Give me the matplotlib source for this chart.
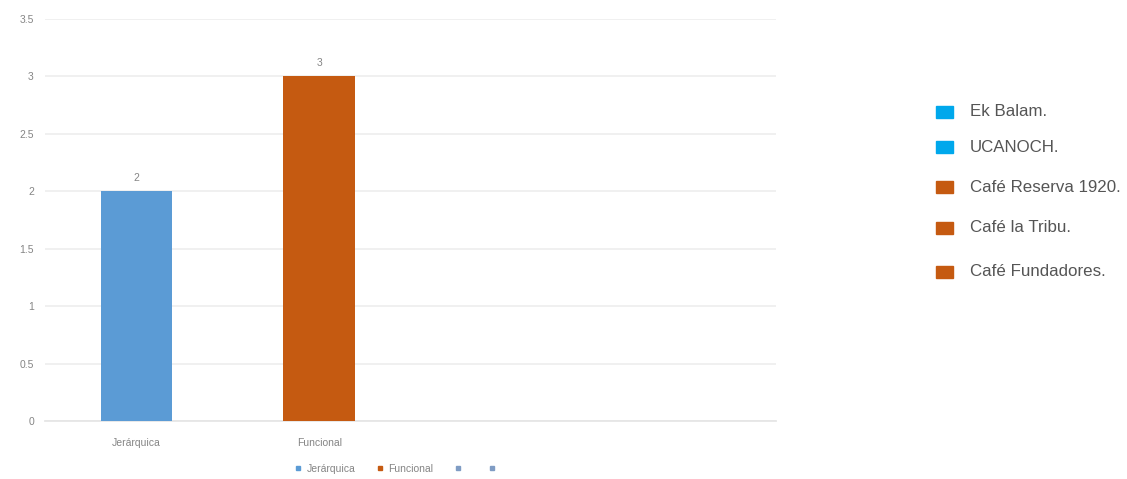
import matplotlib
matplotlib.use("Agg")
import matplotlib.pyplot as plt
from matplotlib.patches import Rectangle
from matplotlib.lines import Line2D

# Data
categories = ["Jerárquica", "Funcional", "", ""]
bar_values = [2, 3]
bar_colors = ["#5B9BD5", "#C55A11"]
series_names = ["Jerárquica", "Funcional", "", ""]
series_colors = ["#5B9BD5", "#C55A11", "#7F9CC4", "#7F9CC4"]
y_ticks = [0, 0.5, 1, 1.5, 2, 2.5, 3, 3.5]
y_tick_labels = ["0", "0.5", "1", "1.5", "2", "2.5", "3", "3.5"]

side_labels = ["Ek Balam.", "UCANOCH.", "Café Reserva 1920.", "Café la Tribu.", "Café Fundadores."]
side_colors = ["#00A8EC", "#00A8EC", "#C55A11", "#C55A11", "#C55A11"]

W, H = 1127, 479
fig = plt.figure(figsize=(W / 100, H / 100), dpi=100)
fig.patch.set_facecolor("white")

font = "Liberation Sans"
text_gray = "#858585"

ax = fig.add_axes([45 / W, 1 - 421 / H, (776 - 45) / W, (421 - 19) / H])
x = list(range(len(categories)))
bars = ax.bar(x[:len(bar_values)], bar_values, width=0.39, color=bar_colors, zorder=3)
for b, v in zip(bars, bar_values):
    ax.text(b.get_x() + b.get_width() / 2, v + 0.07, f"{v:g}", ha="center", va="bottom",
            fontsize=7.5, color=text_gray, family=font)

ax.set_xlim(-0.5, len(categories) - 0.5)
ax.set_ylim(0, 3.5)
ax.set_yticks(y_ticks)
ax.set_yticklabels(y_tick_labels, fontsize=7.5, color=text_gray, family=font)
ax.set_xticks(x)
ax.set_xticklabels(categories, fontsize=7.5, color=text_gray, family=font)
ax.tick_params(axis="both", length=0)
ax.tick_params(axis="y", pad=8)
ax.tick_params(axis="x", pad=12)
ax.grid(axis="y", color="#EFEFEF", linewidth=1.3, zorder=0)
for s in ["top", "right", "left"]:
    ax.spines[s].set_visible(False)
ax.spines["bottom"].set_color("#E6E6E6")
ax.spines["bottom"].set_linewidth(1.3)

# Series legend beneath the plot
handles = [Line2D([], [], marker="s", linestyle="none", markersize=3.5,
                  markerfacecolor=c, markeredgecolor=c) for c in series_colors]
leg = fig.legend(handles, series_names, loc="center", bbox_to_anchor=(397 / W, 1 - 469 / H),
                 ncol=4, frameon=False, handletextpad=0.4, columnspacing=2.0,
                 handlelength=0.8, borderpad=0, prop={"family": font, "size": 7.5})
for t in leg.get_texts():
    t.set_color(text_gray)

# Side key with coloured squares
side_y = [112, 147, 187, 228, 272]
for lab, col, yy in zip(side_labels, side_colors, side_y):
    fig.add_artist(Rectangle((936 / W, 1 - (yy + 6) / H), 17 / W, 12 / H,
                             transform=fig.transFigure, color=col))
    fig.text(970 / W, 1 - yy / H, lab, ha="left", va="center", fontsize=12.2,
             color="#555555", family=font)

fig.savefig("out.png", dpi=100, facecolor="white")
